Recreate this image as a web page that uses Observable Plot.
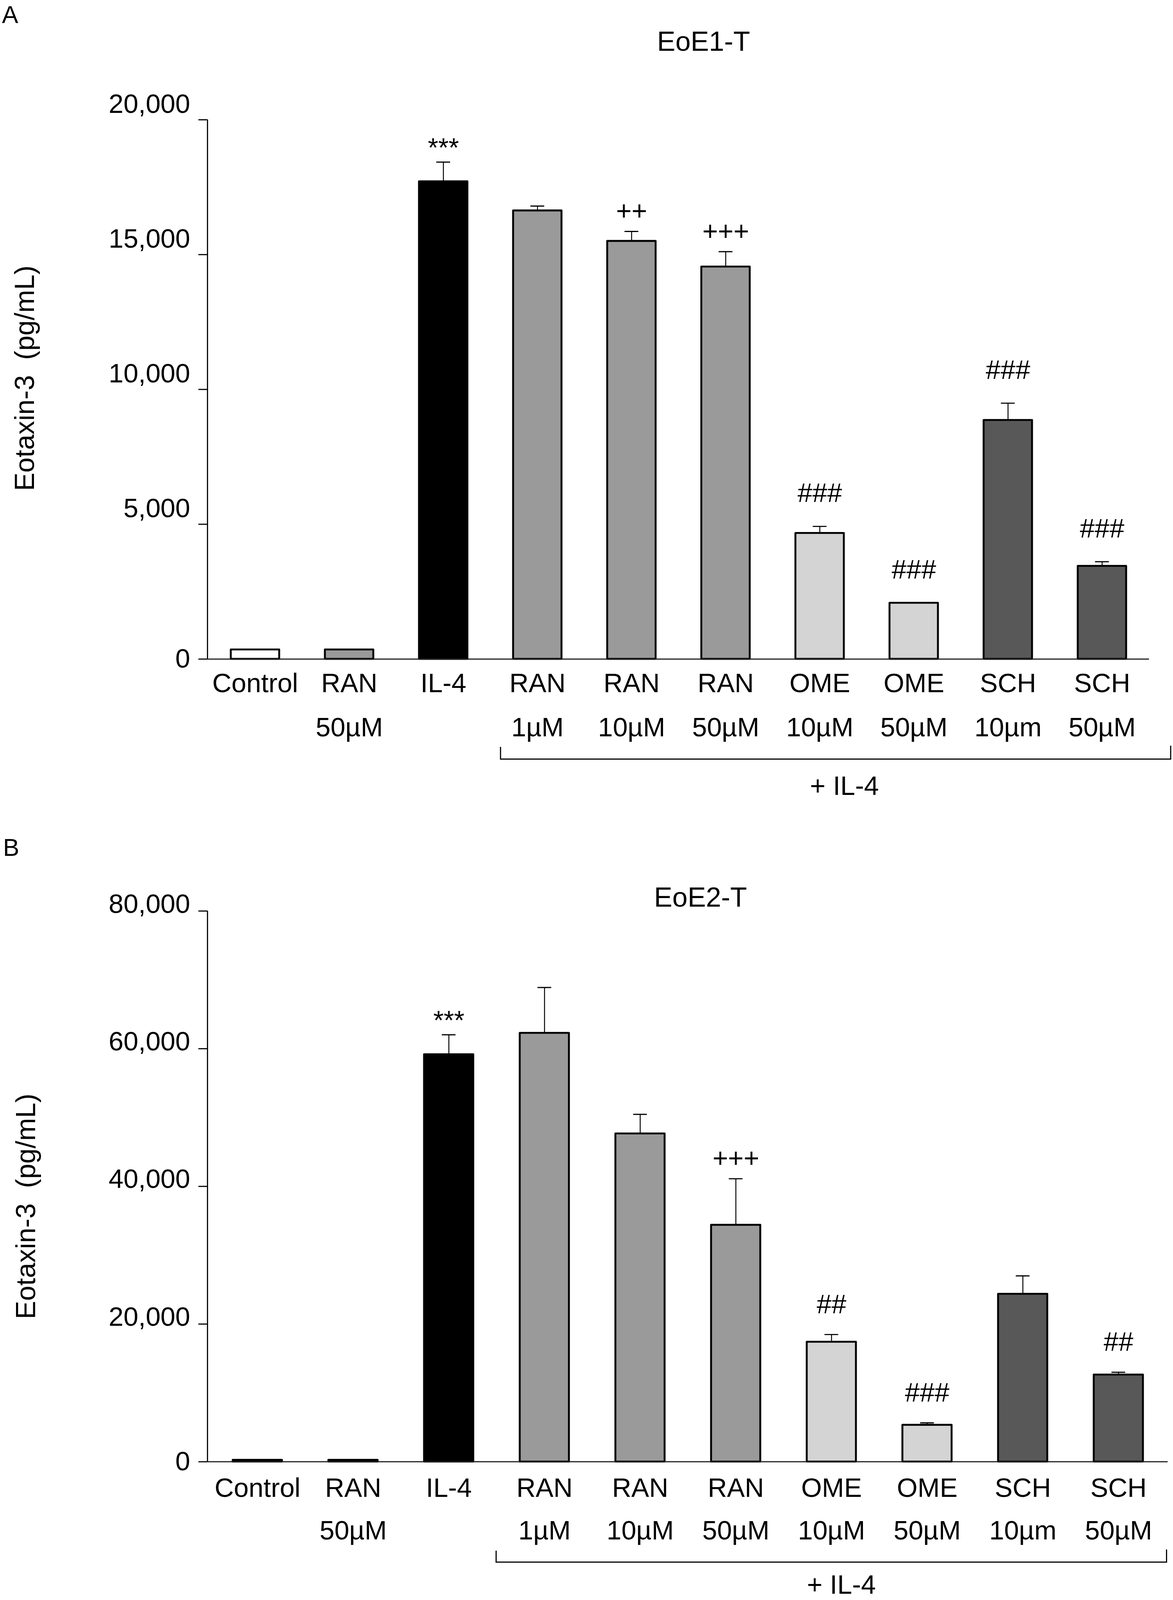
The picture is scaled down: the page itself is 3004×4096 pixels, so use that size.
<!DOCTYPE html>
<html>
<head>
<meta charset="utf-8">
<script src="https://cdn.jsdelivr.net/npm/d3@7"></script>
<script src="https://cdn.jsdelivr.net/npm/@observablehq/plot@0.6"></script>
<style>
  html, body { margin: 0; padding: 0; background: #fff; }
  #fig { position: relative; width: 3004px; height: 4096px; overflow: hidden; background: #fff; }
  .panel { position: absolute; left: 0; }
</style>
</head>
<body>
<div id="fig"></div>
<script>
// ---------------- DATA ----------------
const labelLine1 = ["Control", "RAN", "IL-4", "RAN", "RAN", "RAN", "OME", "OME", "SCH", "SCH"];
const labelLine2 = ["", "50µM", "", "1µM", "10µM", "50µM", "10µM", "50µM", "10µm", "50µM"];
const treatment  = ["control", "RAN", "IL4", "RAN", "RAN", "RAN", "OME", "OME", "SCH", "SCH"];

// Panel A: EoE1-T
const valuesA = [350, 350, 17710, 16630, 15500, 14550, 4670, 2080, 8860, 3450];
const errorsA = [0, 0, 720, 170, 360, 560, 250, 0, 630, 160];
const signifA = ["", "", "***", "", "++", "+++", "###", "###", "###", "###"];

// Panel B: EoE2-T
const valuesB = [250, 250, 59170, 62270, 47660, 34390, 17400, 5340, 24370, 12640];
const errorsB = [0, 0, 2860, 6620, 2800, 6720, 1080, 310, 2630, 360];
const signifB = ["", "", "***", "", "", "+++", "##", "###", "", "##"];

const yTicksA = [0, 5000, 10000, 15000, 20000];
const yTicksB = [0, 20000, 40000, 60000, 80000];

const panelTitles = ["EoE1-T", "EoE2-T"];
const panelLetters = ["A", "B"];
const yAxisLabel = "Eotaxin-3  (pg/mL)";
const bracketLabel = "+ IL-4";

// ---------------- STYLE / LAYOUT ----------------
const S = 0.975;                 // scale from reference pixels
const FONT = "'Liberation Sans', Arial, Helvetica, sans-serif";
const fillOf = { control: "#ffffff", RAN: "#9a9a9a", IL4: "#000000", OME: "#d4d4d4", SCH: "#585858" };
const fmt = d3.format(",");

const panels = [
  {
    top: 0, height: 2100, mt: 314, mb: 370, ml: 545, mr: 62, padOuter: 0.245,
    ymax: 20000, ticks: yTicksA, values: valuesA, errors: errorsA, signif: signifA,
    tickDy: -41, row1: 87, row2: 203,
    letter: { x: 5, y: 60 }, title: { x: 1848, y: 133 }, ylab: { x: 89, y: 993 },
    bracket: { offL: 33, offR: 117, y: 1993, hL: 32, hR: 35 }, plus: { x: 2218, y: 2087 },
    sigGap: { "*": 14, "+": 30, "#": 64 },
    title_i: 0
  },
  {
    top: 2100, height: 2100, mt: 291, mb: 363, ml: 545, mr: 13, padOuter: 0.252,
    ymax: 80000, ticks: yTicksB, values: valuesB, errors: errorsB, signif: signifB,
    tickDy: -18, row1: 92, row2: 204,
    letter: { x: 8, y: 147 }, title: { x: 1840, y: 280 }, ylab: { x: 92, y: 1067 },
    bracket: { offL: 62, offR: 62, y: 2001, hL: 30, hR: 33 }, plus: { x: 2210, y: 2084 },
    sigGap: { "*": 14, "+": 30, "#": 56 },
    title_i: 1
  }
];

const PAD_INNER = 0.487;
const fig = document.getElementById("fig");

panels.forEach((cfg) => {
  const W = 3080 * S, H = cfg.height * S;
  const data = cfg.values.map((v, i) => ({
    key: i, value: v, err: cfg.errors[i], sig: cfg.signif[i], fill: fillOf[treatment[i]]
  }));
  const withErr = data.filter(d => d.err > 0);
  const top = d => d.value + d.err;

  // cap width: compute band width to inset the tick
  const rangeW = (3080 - cfg.ml - cfg.mr) * S;
  const step = rangeW / (10 - PAD_INNER + 2 * cfg.padOuter);
  const bw = step * (1 - PAD_INNER);
  const capInset = (bw - 36 * S) / 2;

  const sigMarks = Object.keys(cfg.sigGap).map(ch =>
    Plot.text(data.filter(d => d.sig && d.sig[0] === ch), {
      x: "key", y: top, text: "sig", lineAnchor: "bottom", dy: -cfg.sigGap[ch] * S,
      fontSize: 70 * S, fill: "black"
    })
  );

  const chart = Plot.plot({
    width: W, height: H,
    marginTop: cfg.mt * S, marginBottom: cfg.mb * S, marginLeft: cfg.ml * S, marginRight: cfg.mr * S,
    style: { fontFamily: FONT, fontSize: `${70 * S}px`, background: "white", color: "black", overflow: "visible" },
    x: { type: "band", domain: d3.range(10), paddingInner: PAD_INNER, paddingOuter: cfg.padOuter, align: 0.5, axis: null },
    y: { domain: [0, cfg.ymax], axis: null },
    color: { type: "identity" },
    marks: [
      Plot.axisY(cfg.ticks, { anchor: "left", tickSize: 24 * S, strokeWidth: 3 * S, fill: "none", label: null, tickFormat: () => "" }),
      Plot.text(cfg.ticks.filter(t => t !== 0), {
        y: d => d, text: d => fmt(d), frameAnchor: "left", textAnchor: "end",
        dx: -46 * S, dy: cfg.tickDy * S, fontSize: 70 * S, fill: "black"
      }),
      Plot.text(cfg.ticks.filter(t => t === 0), {
        y: d => d, text: d => fmt(d), frameAnchor: "left", textAnchor: "end",
        dx: -46 * S, dy: 0, fontSize: 70 * S, fill: "black"
      }),
      Plot.ruleX(withErr, { x: "key", y1: "value", y2: top, stroke: "black", strokeWidth: 2.5 * S }),
      Plot.tickY(withErr, { x: "key", y: top, stroke: "black", strokeWidth: 3 * S, insetLeft: capInset, insetRight: capInset }),
      Plot.barY(data, {
        x: "key", y: "value", fill: "fill", stroke: "black", strokeWidth: 5 * S, strokeLinejoin: "round"
      }),
      Plot.ruleY([0], { stroke: "#222", strokeWidth: 3 * S }),
      ...sigMarks,
      Plot.text(data, {
        x: "key", text: d => labelLine1[d.key], frameAnchor: "bottom", lineAnchor: "bottom",
        dy: cfg.row1 * S, fontSize: 70 * S, fill: "black"
      }),
      Plot.text(data.filter(d => labelLine2[d.key]), {
        x: "key", text: d => labelLine2[d.key], frameAnchor: "bottom", lineAnchor: "bottom",
        dy: cfg.row2 * S, fontSize: 70 * S, fill: "black"
      })
    ]
  });

  chart.classList.add("panel");
  chart.style.top = `${cfg.top * S}px`;
  fig.appendChild(chart);

  const svg = d3.select(chart);
  const ys = chart.scale("y");
  const xs = chart.scale("x");
  const [yBottom, yTop] = ys.range;

  // y-axis line
  svg.append("line")
    .attr("x1", cfg.ml * S).attr("x2", cfg.ml * S)
    .attr("y1", yTop).attr("y2", yBottom)
    .attr("stroke", "black").attr("stroke-width", 3 * S);

  // bracket under the +IL-4 group
  const xL = xs.apply(3) - cfg.bracket.offL * S;
  const xR = xs.apply(9) + xs.bandwidth + cfg.bracket.offR * S;
  const by = cfg.bracket.y * S;
  svg.append("path")
    .attr("d", `M${xL},${by - cfg.bracket.hL * S}V${by}H${xR}V${by - cfg.bracket.hR * S}`)
    .attr("fill", "none").attr("stroke", "black").attr("stroke-width", 3 * S);

  const addText = (x, y, txt, size, anchor = "middle", rot = 0) => {
    svg.append("text")
      .attr("transform", `translate(${x},${y}) rotate(${rot})`)
      .attr("text-anchor", anchor)
      .attr("font-family", FONT)
      .attr("font-size", size)
      .attr("fill", "black")
      .style("white-space", "pre")
      .attr("xml:space", "preserve")
      .text(txt);
  };

  addText(cfg.plus.x * S, cfg.plus.y * S, bracketLabel, 70 * S);
  addText(cfg.letter.x * S, cfg.letter.y * S, panelLetters[cfg.title_i], 64 * S, "start");
  addText(cfg.title.x * S, cfg.title.y * S, panelTitles[cfg.title_i], 72 * S);
  addText(cfg.ylab.x * S, cfg.ylab.y * S, yAxisLabel, 72 * S, "middle", -90);
});
</script>
</body>
</html>
